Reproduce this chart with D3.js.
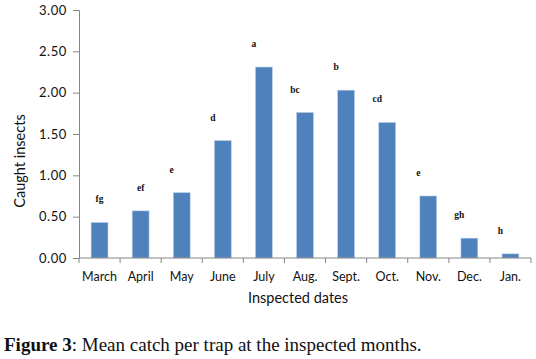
<!DOCTYPE html>
<html>
<head>
<meta charset="utf-8">
<script src="https://cdn.jsdelivr.net/npm/d3@7"></script>
<style>
  body { margin: 0; background: #fff; }
  .tick text { font-family: Lato, "Open Sans", sans-serif; font-size: 13px; letter-spacing: 0.6px; fill: #111; }
  .xlabel { font-family: Lato, "Open Sans", sans-serif; font-size: 12.5px; fill: #111; }
  .axis-title { font-family: Lato, "Open Sans", sans-serif; font-size: 14.5px; fill: #111; }
  .sig { font-family: "Liberation Serif", serif; font-size: 9.5px; font-weight: bold; fill: #111; }
  .caption { font-family: "Liberation Serif", serif; font-size: 19px; fill: #111; }
</style>
</head>
<body>
<svg id="chart" width="536" height="359"></svg>
<script>
// 1. Data
const months = ["March", "April", "May", "June", "July", "Aug.", "Sept.", "Oct.", "Nov.", "Dec.", "Jan."]
const meanCatch = [0.43, 0.57, 0.79, 1.42, 2.31, 1.76, 2.03, 1.64, 0.75, 0.24, 0.05]
const sigLetters = ["fg", "ef", "e", "d", "a", "bc", "b", "cd", "e", "gh", "h"]
const yTicks = [0, 0.5, 1, 1.5, 2, 2.5, 3]

// 2. Dimensions
const dimensions = {
  width: 536,
  height: 359,
  margin: { top: 10, right: 5, bottom: 101, left: 79 },
}
dimensions.boundedWidth = 452
dimensions.boundedHeight = dimensions.height - dimensions.margin.top - dimensions.margin.bottom

const svg = d3.select("#chart")
const bounds = svg.append("g")
  .attr("transform", `translate(${dimensions.margin.left},${dimensions.margin.top})`)

// 3. Scales
const xScale = d3.scaleBand()
  .domain(months)
  .range([0, dimensions.boundedWidth])
  .paddingInner(0.59)
  .paddingOuter(0.295)

const yScale = d3.scaleLinear()
  .domain([0, 3])
  .range([dimensions.boundedHeight, 0])

// 4. Bars
bounds.selectAll(".bar")
  .data(months)
  .enter().append("rect")
  .attr("class", "bar")
  .attr("x", d => xScale(d))
  .attr("width", xScale.bandwidth())
  .attr("y", (d, i) => yScale(meanCatch[i]))
  .attr("height", (d, i) => dimensions.boundedHeight - yScale(meanCatch[i]))
  .attr("fill", "#4f81bd")
  .attr("stroke", "#b9cde5")
  .attr("stroke-width", 0.6)

// significance letters above the bars
bounds.selectAll(".sig")
  .data(sigLetters)
  .enter().append("text")
  .attr("class", "sig")
  .attr("x", (d, i) => xScale(months[i]) + xScale.bandwidth() / 2 + (i < 2 ? 0 : -10))
  .attr("y", (d, i) => yScale(meanCatch[i]) - 20)
  .attr("text-anchor", "middle")
  .text(d => d)

// 5. Axes
const yAxis = bounds.append("g")
  .call(d3.axisLeft(yScale).tickValues(yTicks).tickFormat(d3.format(".2f")).tickSize(6).tickPadding(6))
yAxis.selectAll("line, path").attr("stroke", "#868686")

// x axis: ticks at band boundaries
const xAxis = bounds.append("g")
  .attr("transform", `translate(0,${dimensions.boundedHeight})`)
xAxis.append("line")
  .attr("x1", 0).attr("x2", dimensions.boundedWidth)
  .attr("stroke", "#868686")
const boundaries = d3.range(months.length + 1).map(i => i * dimensions.boundedWidth / months.length)
xAxis.selectAll(".xt")
  .data(boundaries)
  .enter().append("line")
  .attr("x1", d => d).attr("x2", d => d)
  .attr("y1", 0).attr("y2", 5)
  .attr("stroke", "#868686")
xAxis.selectAll(".xlabel")
  .data(months)
  .enter().append("text")
  .attr("class", "xlabel")
  .attr("x", d => xScale(d) + xScale.bandwidth() / 2)
  .attr("y", 23)
  .attr("text-anchor", "middle")
  .text(d => d)

// axis titles
svg.append("text")
  .attr("class", "axis-title")
  .attr("transform", "translate(25,161) rotate(-90)")
  .attr("text-anchor", "middle")
  .text("Caught insects")

svg.append("text")
  .attr("class", "axis-title")
  .attr("x", 298)
  .attr("y", 303)
  .attr("text-anchor", "middle")
  .text("Inspected dates")

// caption
const caption = svg.append("text")
  .attr("class", "caption")
  .attr("x", 4)
  .attr("y", 351)
caption.append("tspan").style("font-weight", "bold").text("Figure 3")
caption.append("tspan").text(": Mean catch per trap at the inspected months.")
</script>
</body>
</html>
